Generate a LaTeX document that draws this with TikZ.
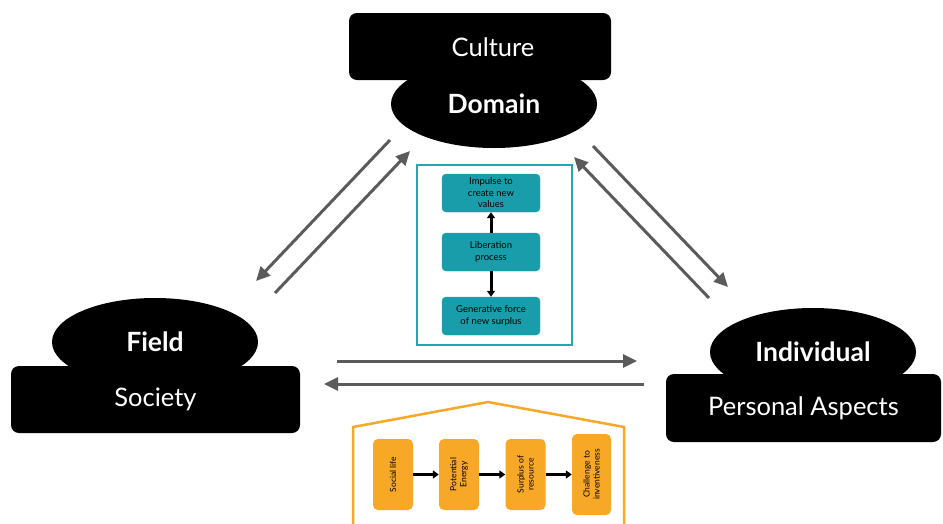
\documentclass[tikz,border=0pt]{standalone}
\usepackage{fontspec}
\setmainfont{Lato}
\usetikzlibrary{shapes.geometric,arrows.meta}

\definecolor{tealbox}{HTML}{1A9DAA}
\definecolor{tealline}{HTML}{1FA7B3}
\definecolor{orangebox}{HTML}{F7A826}
\definecolor{greyarrow}{HTML}{5B5B5B}

\tikzset{
	blob/.style={ellipse, fill=black, minimum width=206pt, minimum height=88pt, inner sep=0pt, text=white, font=\fontsize{26.5}{30}\selectfont\bfseries},
	slab/.style={rectangle, rounded corners=8pt, fill=black, inner sep=0pt, text=white, font=\fontsize{25.5}{30}\selectfont},
	bigarrow/.style={draw=greyarrow, line width=3pt, -{Triangle[length=14pt,width=13pt]}},
	tealstep/.style={rectangle, rounded corners=4pt, fill=tealbox, draw=tealline, minimum width=98pt, minimum height=38pt, inner sep=1pt, align=center, font=\fontsize{9.5}{11.5}\selectfont},
	orangestep/.style={rectangle, rounded corners=5pt, fill=orangebox, rotate=90, minimum width=71pt, minimum height=40pt, inner sep=1pt, align=center, font=\fontsize{8.5}{10}\selectfont},
	smallarrow/.style={draw=black, line width=3pt, -{Triangle[length=6pt,width=8pt]}}
}

\begin{document}
\begin{tikzpicture}[x=1pt,y=-1pt]
	\useasboundingbox (0,0) rectangle (943,523);
	
	% domain / culture
	\node[blob] (domain) at (494,104) {Domain};
	\node[slab, minimum width=262pt, minimum height=67pt] (culture) at (480,46.5) {};
	\node[text=white, font=\fontsize{25.5}{30}\selectfont] (culturetxt) at (493,47) {Culture};
	
	% field / society
	\node[blob] (field) at (155,342) {Field};
	\node[slab, minimum width=289pt, minimum height=67pt] (society) at (155.5,399.5) {Society};
	
	% individual / personal aspects
	\node[blob] (individual) at (813,352) {Individual};
	\node[slab, minimum width=275pt, minimum height=68pt] (personal) at (803.5,408) {Personal Aspects};
	
	% arrow ends
	\coordinate (dom2fieldA) at (390,140);
	\coordinate (dom2fieldB) at (256,281);
	\coordinate (field2domA) at (275,293);
	\coordinate (field2domB) at (410,151);
	\coordinate (dom2indA) at (593,146);
	\coordinate (dom2indB) at (728,287);
	\coordinate (ind2domA) at (709,298);
	\coordinate (ind2domB) at (574,157);
	\coordinate (field2indA) at (337,361);
	\coordinate (field2indB) at (637,361);
	\coordinate (ind2fieldA) at (644,384);
	\coordinate (ind2fieldB) at (324,384);
	
	\draw[bigarrow] (dom2fieldA) -- (dom2fieldB);
	\draw[bigarrow] (field2domA) -- (field2domB);
	\draw[bigarrow] (dom2indA) -- (dom2indB);
	\draw[bigarrow] (ind2domA) -- (ind2domB);
	\draw[bigarrow] (field2indA) -- (field2indB);
	\draw[bigarrow] (ind2fieldA) -- (ind2fieldB);
	
	% teal panel
	\draw[tealline, line width=2.5pt] (417,165) rectangle (572,345);
	\node[tealstep] (impulse) at (491,193) {Impulse to\\create new\\values};
	\node[tealstep] (liberation) at (491,252) {Liberation\\process};
	\node[tealstep] (generative) at (491,316) {Generative force\\of new surplus};
	\draw[smallarrow] (liberation) -- (impulse);
	\draw[smallarrow] (liberation) -- (generative);
	
	% orange house
	\draw[orangebox, line width=2.5pt, line join=miter] (353,530) -- (353,427) -- (488,402) -- (624,427) -- (624,530);
	\node[orangestep] (social) at (393,474.5) {Social life};
	\node[orangestep] (potential) at (459,474.5) {Potential\\Energy};
	\node[orangestep] (surplus) at (525.5,474.5) {Surplus of\\resource};
	\node[orangestep, minimum width=81pt, minimum height=39pt] (challenge) at (591.5,474.5) {Challenge to\\inventiveness};
	\draw[smallarrow] (social) -- (potential);
	\draw[smallarrow] (potential) -- (surplus);
	\draw[smallarrow] (surplus) -- (challenge);
\end{tikzpicture}
\end{document}
